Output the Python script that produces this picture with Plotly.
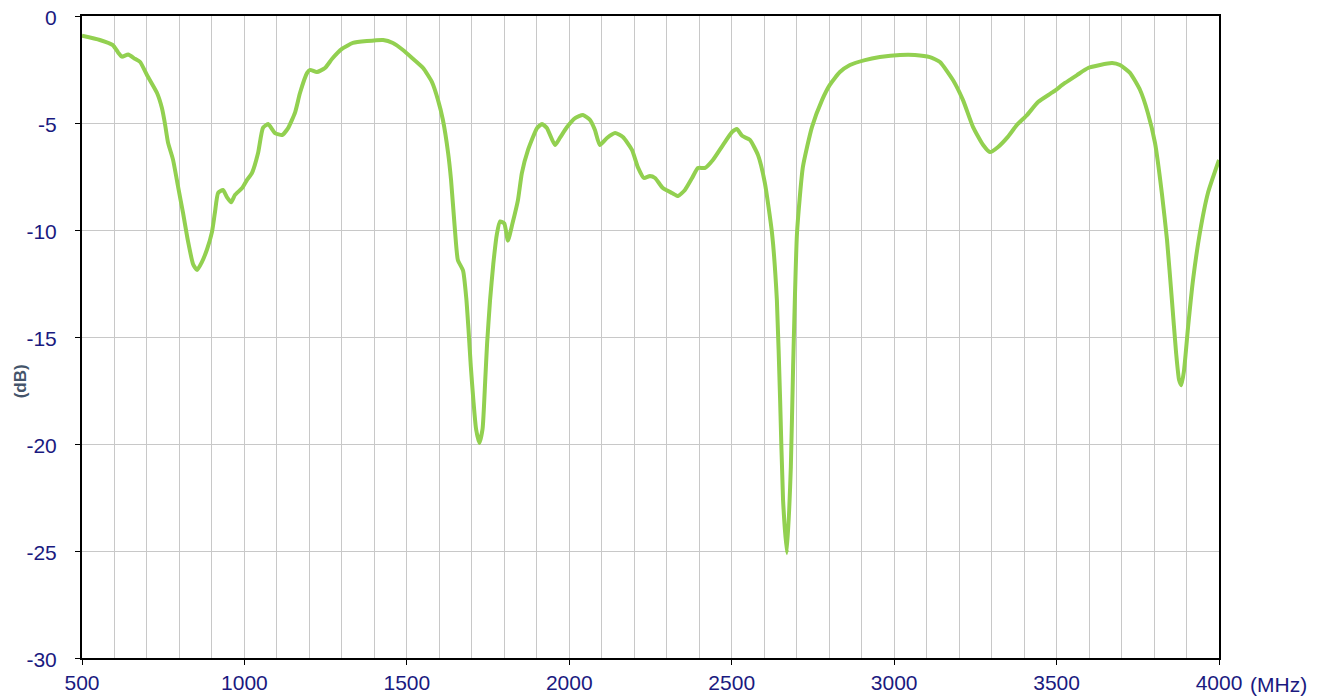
import plotly.graph_objects as go

freq_mhz = [500, 555, 595, 611, 623, 642, 663, 679, 700, 731, 746, 755, 765, 780, 796, 811, 826, 842, 854,
            869, 885, 900, 909, 919, 934, 946, 959, 971, 993, 1008, 1023, 1042, 1057, 1073, 1094, 1116, 1134,
            1156, 1171, 1193, 1202, 1223, 1248, 1270, 1300, 1334, 1377, 1427, 1457, 1488, 1516, 1550, 1577,
            1596, 1611, 1627, 1636, 1648, 1657, 1673, 1683, 1690, 1697, 1705, 1713, 1723, 1733, 1741, 1747,
            1756, 1766, 1777, 1787, 1800, 1811, 1825, 1842, 1854, 1873, 1901, 1916, 1931, 1956, 1971, 1993,
            2018, 2042, 2064, 2079, 2094, 2116, 2141, 2165, 2193, 2211, 2230, 2248, 2264, 2288, 2316, 2335,
            2356, 2378, 2396, 2418, 2442, 2473, 2501, 2516, 2532, 2556, 2581, 2602, 2624, 2639, 2649, 2658,
            2670, 2682, 2689, 2701, 2719, 2747, 2778, 2802, 2833, 2864, 2910, 2956, 3018, 3064, 3110, 3141,
            3181, 3212, 3243, 3274, 3295, 3320, 3350, 3378, 3409, 3443, 3489, 3526, 3563, 3597, 3634, 3671,
            3695, 3726, 3757, 3781, 3803, 3824, 3840, 3855, 3868, 3877, 3884, 3892, 3905, 3920, 3941, 3966, 4000]
s11_db = [-0.92, -1.12, -1.36, -1.7, -1.9, -1.8, -2.0, -2.15, -2.76, -3.6, -4.3, -5.0, -5.93, -6.7, -8.0, -9.2,
          -10.5, -11.6, -11.87, -11.5, -10.9, -10.1, -9.2, -8.27, -8.13, -8.46, -8.7, -8.36, -8.04, -7.66,
          -7.34, -6.4, -5.23, -5.05, -5.47, -5.56, -5.25, -4.5, -3.6, -2.66, -2.52, -2.62, -2.43, -2.0,
          -1.54, -1.26, -1.17, -1.12, -1.26, -1.59, -1.96, -2.43, -3.08, -3.93, -4.86, -6.4, -7.66, -10.0,
          -11.4, -11.9, -13.2, -14.7, -16.4, -18.0, -19.3, -19.95, -19.3, -17.1, -15.3, -13.3, -11.6,
          -10.2, -9.6, -9.7, -10.5, -9.7, -8.6, -7.34, -6.26, -5.23, -5.05, -5.23, -6.03, -5.7, -5.19,
          -4.77, -4.63, -4.86, -5.33, -6.03, -5.7, -5.47, -5.65, -6.26, -7.06, -7.57, -7.48, -7.57, -8.04,
          -8.27, -8.41, -8.13, -7.57, -7.1, -7.1, -6.73, -6.03, -5.42, -5.28, -5.6, -5.79, -6.5, -7.8,
          -10.14, -13.27, -17.94, -22.6, -25.1, -21.07, -16.4, -10.14, -7.06, -5.19, -3.93, -3.22, -2.62,
          -2.29, -2.06, -1.92, -1.82, -1.82, -1.92, -2.15, -2.99, -3.93, -5.19, -6.03, -6.36, -6.12, -5.65,
          -5.09, -4.63, -4.02, -3.55, -3.13, -2.76, -2.43, -2.29, -2.2, -2.29, -2.66, -3.46, -4.53, -5.93,
          -8.27, -10.47, -13.27, -15.75, -17.0, -17.25, -16.6, -14.5, -12.34, -10.14, -8.27, -6.73]

x_ticks = [500, 1000, 1500, 2000, 2500, 3000, 3500, 4000]
y_ticks = [0, -5, -10, -15, -20, -25, -30]

tick_font = dict(family="Liberation Sans, Arial, sans-serif", size=21, color="#1a1a80")

fig = go.Figure()
fig.add_trace(go.Scatter(
    x=freq_mhz, y=s11_db, mode="lines",
    line=dict(color="#92D050", width=4, shape="spline", smoothing=0.5),
    showlegend=False, hoverinfo="x+y",
))

# page body has an 8px margin, so the figure is 8px smaller than the window
fig.update_layout(
    width=1316, height=691,
    margin=dict(l=74, r=105, t=8, b=41),
    paper_bgcolor="white", plot_bgcolor="white",
    xaxis=dict(
        range=[500, 4000], tickvals=x_ticks, ticktext=[str(v) for v in x_ticks],
        showgrid=True, gridcolor="#c8c8c8", gridwidth=1,
        minor=dict(dtick=100, tick0=500, showgrid=True, gridcolor="#c8c8c8", gridwidth=1),
        showline=True, linecolor="black", linewidth=2, mirror=True,
        ticks="outside", ticklen=5, tickcolor="black", tickwidth=1,
        tickfont=tick_font, zeroline=False, automargin=False, ticklabeloverflow="allow",
    ),
    yaxis=dict(
        range=[-30, 0], tickvals=y_ticks, ticktext=[str(v) for v in y_ticks],
        showgrid=True, gridcolor="#c8c8c8", gridwidth=1,
        showline=True, linecolor="black", linewidth=2, mirror=True,
        ticks="outside", ticklen=5, tickcolor="black", tickwidth=1,
        tickfont=tick_font, zeroline=False, ticklabelstandoff=14, automargin=False,
        ticklabeloverflow="allow", ticklabelshift=2,
    ),
    annotations=[
        dict(text="<b>(dB)</b>", xref="paper", yref="paper", x=-0.0545, y=0.431,
             xanchor="center", yanchor="middle", textangle=-90, showarrow=False,
             font=dict(family="Liberation Sans, Arial, sans-serif", size=17, color="#44546A")),
        dict(text="(MHz)", xref="paper", yref="paper", x=1.0, y=0, xanchor="left", yanchor="top",
             xshift=29, yshift=-13, showarrow=False,
             font=tick_font),
    ],
)

fig.write_html("out.html")
